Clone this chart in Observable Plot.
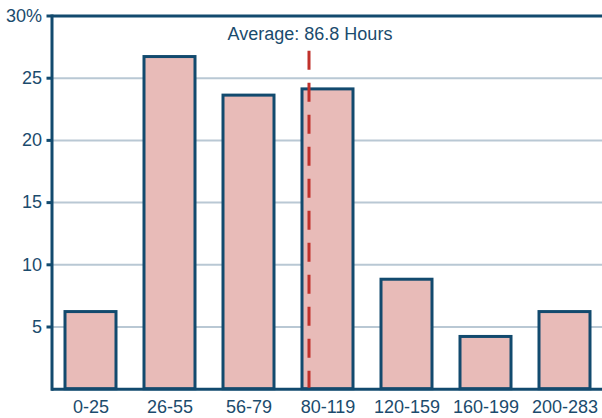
<!DOCTYPE html>
<html>
<head>
<meta charset="utf-8">
<script src="https://cdn.jsdelivr.net/npm/d3@7"></script>
<script src="https://cdn.jsdelivr.net/npm/@observablehq/plot@0.6"></script>
<style>
  html, body { margin: 0; padding: 0; background: #ffffff; }
  #chart { width: 602px; height: 418px; }
</style>
</head>
<body>
<div id="chart"></div>
<script>
const categories = ["0-25", "26-55", "56-79", "80-119", "120-159", "160-199", "200-283"];
const shares = [6.2, 26.7, 23.6, 24.1, 8.8, 4.2, 6.2];
const yTicks = [5, 10, 15, 20, 25, 30];
const gridTicks = [5, 10, 15, 20, 25];
const averageBin = "80-119";
const averageLabel = "Average: 86.8 Hours";
const averageLineTop = 27.17;
const averageLabelY = 28.57;

const data = categories.map((c, i) => ({cat: c, share: shares[i]}));

const navy = "#124a6e";
const textColor = "#1b4b6d";

const chart = Plot.plot({
  width: 602,
  height: 418,
  marginTop: 15.5,
  marginBottom: 29.3,
  marginLeft: 51.5,
  marginRight: 0,
  style: {
    fontFamily: "'Liberation Sans', Arial, Helvetica, sans-serif",
    fontSize: "18px",
    color: textColor,
    background: "#ffffff"
  },
  x: {domain: categories, range: [51.5, 604.5], paddingInner: 0.35, paddingOuter: 0.175, label: null},
  y: {domain: [0, 30], label: null},
  marks: [
    Plot.ruleY(gridTicks, {stroke: "#b9c8d4", strokeWidth: 2}),
    Plot.barY(data, {x: "cat", y: "share", fill: "#e8bbb8", stroke: navy, strokeWidth: 3}),
    Plot.ruleX([averageBin], {y1: averageLineTop, y2: 0, dx: -19, stroke: "#c0312b", strokeWidth: 3, strokeDasharray: "19,13"}),
    Plot.text([averageLabel], {x: () => averageBin, y: averageLabelY, text: d => d, dx: -18, fill: textColor, fontSize: 18}),
    Plot.ruleY([0, 30], {stroke: navy, strokeWidth: 3}),
    Plot.frame({anchor: "left", stroke: navy, strokeWidth: 3}),
    Plot.axisY(yTicks, {tickSize: 5, tickPadding: 5, stroke: navy, strokeWidth: 3, fill: textColor,
      tickFormat: d => d === 30 ? "30%" : String(d), label: null}),
    Plot.axisX({tickSize: 0, tickPadding: 11, fill: textColor, label: null})
  ]
});

document.getElementById("chart").appendChild(chart);
</script>
</body>
</html>
